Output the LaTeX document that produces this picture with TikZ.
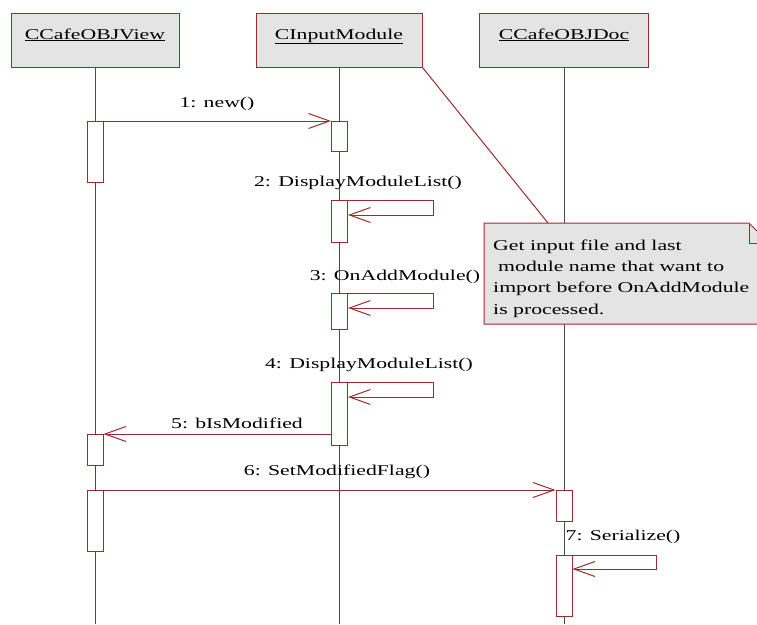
\documentclass[tikz,border=0pt]{standalone}
\usepackage{fontspec}
\setmainfont[FakeStretch=1.45]{Liberation Serif}
\usetikzlibrary{arrows.meta}
\definecolor{umlred}{HTML}{9B2B2E}
\definecolor{boxgray}{HTML}{E4E4E4}
\definecolor{lifegray}{HTML}{4A4A4A}
\begin{document}
\begin{tikzpicture}[x=1pt,y=-1pt,
  font=\fontsize{15}{21.3}\selectfont,
  objbox/.style={draw=umlred, fill=boxgray, line width=1pt, minimum height=54pt, inner sep=0pt},
  objname/.style={inner sep=0pt, anchor=base},
  lifeline/.style={draw=lifegray, line width=1pt},
  act/.style={draw=umlred, fill=white, line width=1pt, minimum width=16pt, inner sep=0pt, anchor=north},
  msg/.style={draw=umlred, line width=1pt, -{Straight Barb[length=21pt,width=15pt]}},
  lbl/.style={inner sep=0pt},
  notebox/.style={draw=umlred, fill=boxgray, line width=1pt, line join=miter},
]
\useasboundingbox (0,0) rectangle (757,624);

% object headers
\node[objbox, minimum width=168pt] (viewobj) at (95,40) {};
\node[objbox, minimum width=166pt] (inmodobj) at (339,40) {};
\node[objbox, minimum width=169pt] (docobj) at (564,40) {};
\node[objname] (viewname) at (95,39) {\underline{CCafeOBJView}};
\node[objname] (inmodname) at (339,39) {\underline{CInputModule}};
\node[objname] (docname) at (564,39) {\underline{CCafeOBJDoc}};

% lifelines
\coordinate (bottom) at (0,624);
\draw[lifeline] (viewobj.south) -- (viewobj.south |- bottom);
\draw[lifeline] (inmodobj.south) -- (inmodobj.south |- bottom);
\draw[lifeline] (docobj.south) -- (docobj.south |- bottom);

% note attached to CInputModule
\coordinate (notetop) at (548,223);
\draw[umlred, line width=1pt] (inmodobj.south east) -- (notetop);
\path[notebox] (484,223) -- (749,223) -- (769,243) -- (769,324) -- (484,324) -- cycle;
\draw[umlred, line width=1pt] (749,223) -- (749,243) -- (769,243);
\node[anchor=north west, align=left, inner sep=0pt] (notetext) at (493,239.5)
  {Get input file and last\\\hspace{5pt}module name that want to\\import before OnAddModule\\is processed.};

% activation bars
\node[act, minimum height=61pt] (v1) at (95,121) {};
\node[act, minimum height=31pt] (v2) at (95,434) {};
\node[act, minimum height=61pt] (v3) at (95,490) {};
\node[act, minimum height=30pt] (i1) at (339.5,121) {};
\node[act, minimum height=42pt] (i2) at (339.5,200) {};
\node[act, minimum height=36pt] (i3) at (339.5,293) {};
\node[act, minimum height=63pt] (i4) at (339.5,382) {};
\node[act, minimum height=31pt] (d1) at (564,490) {};
\node[act, minimum height=61pt] (d2) at (564,555) {};

% messages
\draw[msg] (v1.north east) -- (i1.north west);
\draw[msg] (i2.north east) -- ++(85,0) -- ++(0,15) -- ++(-85,0);
\draw[msg] (i3.north east) -- ++(85,0) -- ++(0,15) -- ++(-85,0);
\draw[msg] (i4.north east) -- ++(85,0) -- ++(0,15) -- ++(-85,0);
\draw[msg] (i4.west |- v2.north) -- (v2.north east);
\draw[msg] (v3.north east) -- (d1.north west);
\draw[msg] (d2.north east) -- ++(84,0) -- ++(0,14) -- ++(-84,0);

% message labels
\node[lbl] (l1) at (217,104) {1: new()};
\node[lbl] (l2) at (358,183) {2: DisplayModuleList()};
\node[lbl] (l3) at (395,277) {3: OnAddModule()};
\node[lbl] (l4) at (369,365) {4: DisplayModuleList()};
\node[lbl] (l5) at (237,423) {5: bIsModified};
\node[lbl] (l6) at (337,472) {6: SetModifiedFlag()};
\node[lbl] (l7) at (623,537) {7: Serialize()};
\end{tikzpicture}
\end{document}
